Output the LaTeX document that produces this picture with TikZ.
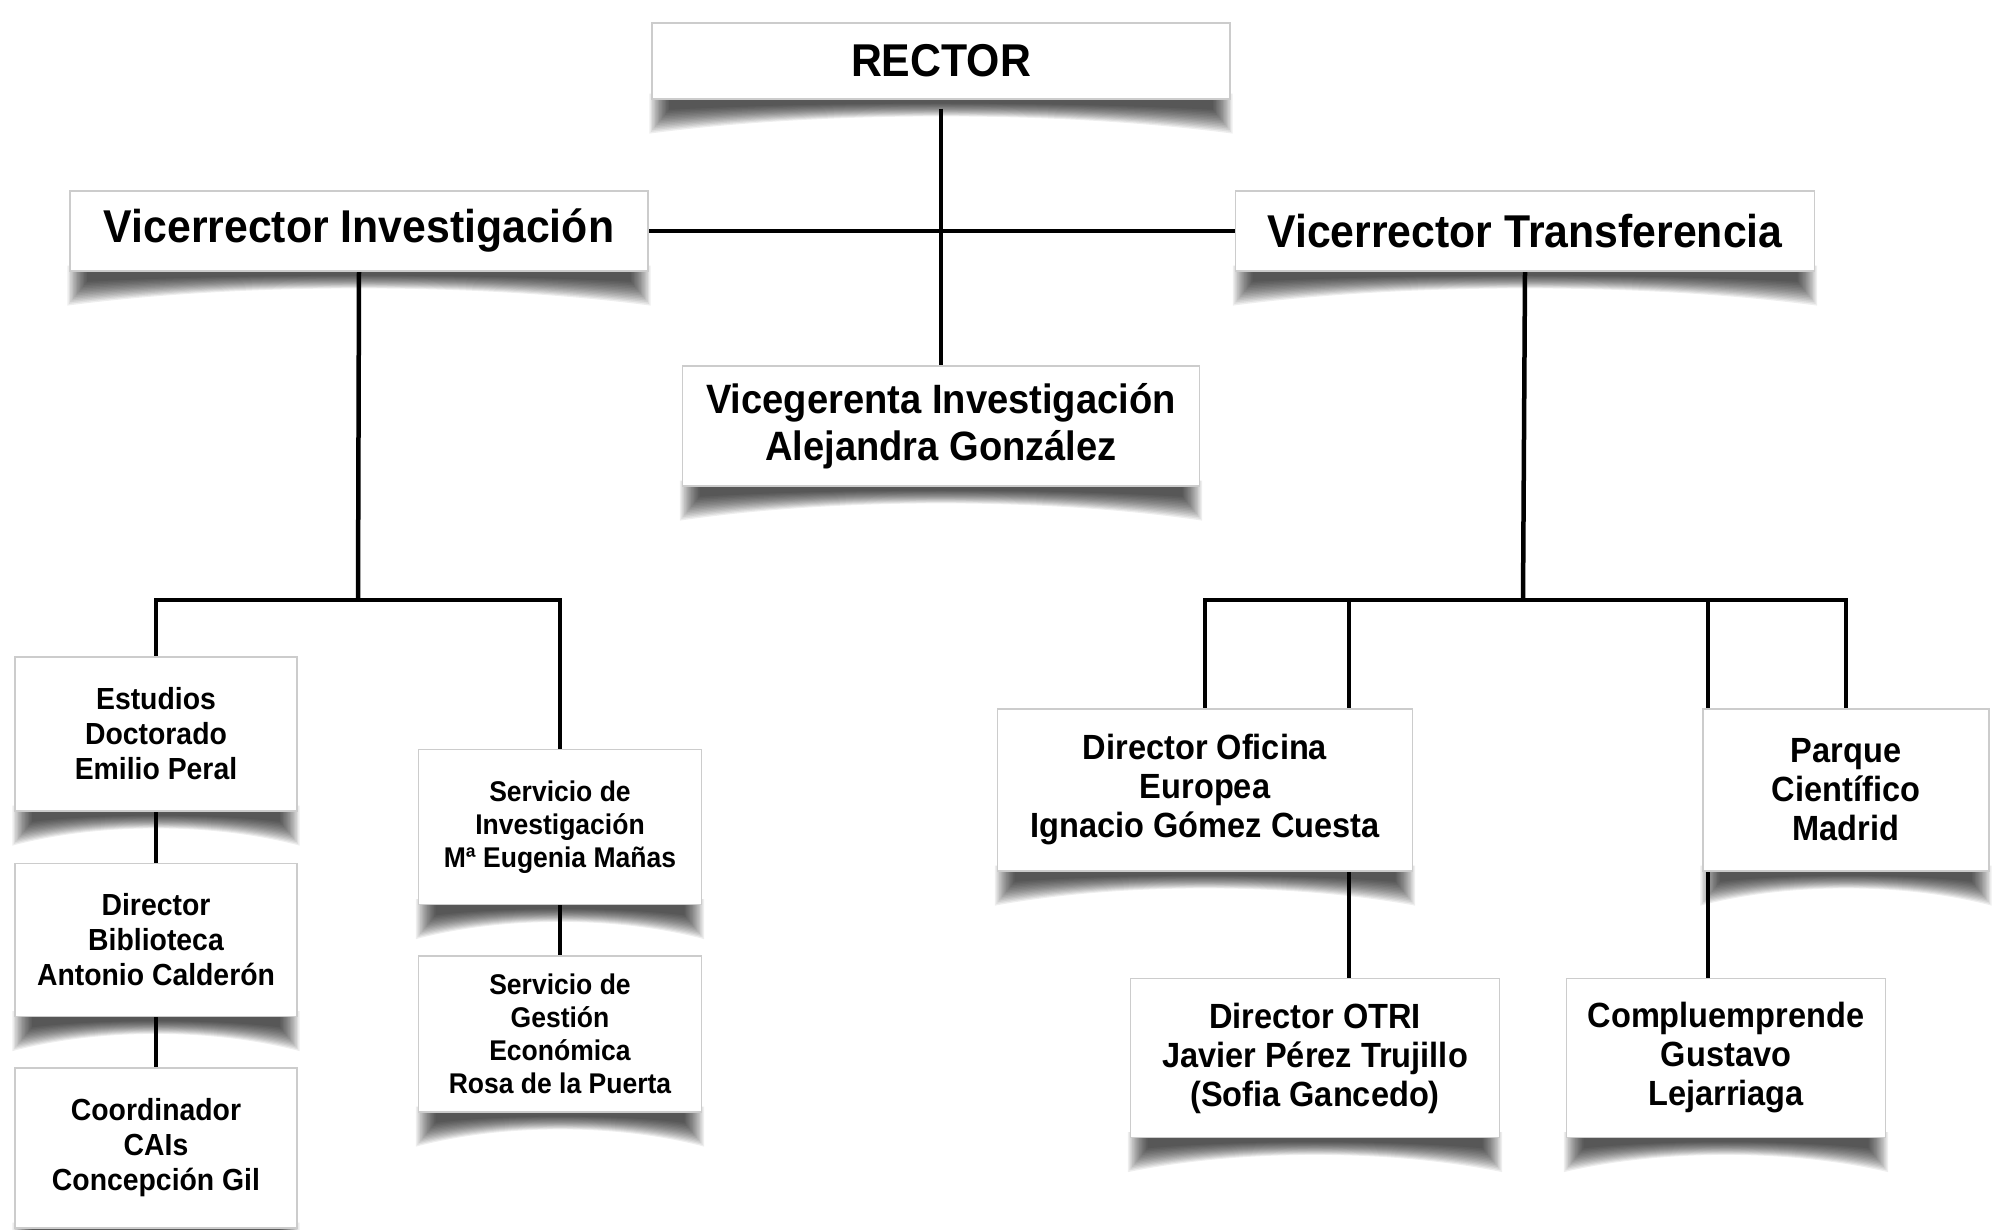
\documentclass[tikz,border=0pt]{standalone}
\usepackage{fontspec}
\setmainfont{Liberation Sans}[FakeStretch=0.93]
\usetikzlibrary{calc}
\pgfdeclarelayer{bg}
\pgfdeclarelayer{shadow}
\pgfdeclarelayer{lines}
\pgfsetlayers{bg,shadow,lines,main}
\newcommand\fsz[2]{\fontsize{#1}{#2}\selectfont}
\newcommand\curl[1]{%
\begin{pgfonlayer}{shadow}
\foreach \k in {0,...,14}{
 \fill[black,opacity=0.065]
  ($(#1.south west)+(-2+\k*1.4,-6)$) -- ($(#1.south west)+(-2+\k*1.4,34-\k*1.7)$)
  .. controls ($(#1.south west)!0.3!(#1.south east)+(0,11-\k*0.65)$) and ($(#1.south west)!0.7!(#1.south east)+(0,11-\k*0.65)$) ..
  ($(#1.south east)+(2-\k*1.4,34-\k*1.7)$) -- ($(#1.south east)+(2-\k*1.4,-6)$) -- cycle;
}
\end{pgfonlayer}}
\tikzset{
  box/.style={draw=gray!40, line width=1.2pt, fill=white, align=center, inner sep=0pt},
  big/.style={box, font=\bfseries\fsz{46}{52}},
  mid/.style={box, font=\bfseries\fsz{41}{47}},
  med/.style={box, font=\bfseries\fsz{35}{39}},
  sml/.style={box, font=\bfseries\fsz{30.5}{35}},
  tny/.style={box, font=\bfseries\fsz{28.5}{33}},
  conn/.style={line width=4.5pt, black, line join=miter}
}
\begin{document}
\begin{tikzpicture}[x=1pt,y=-1pt]
\begin{pgfonlayer}{bg}
\fill[white] (0,0) rectangle (1993,1229);
\end{pgfonlayer}
\useasboundingbox (0,0) rectangle (1993,1229);

\node[big, minimum width=578, minimum height=76] (rector) at (941,61) {RECTOR};
\node[big, minimum width=578, minimum height=80] (vi) at (359,231) {Vicerrector Investigación};
\node[big, minimum width=579, minimum height=80] (vt) at (1525,231) {Vicerrector Transferencia};
\node[mid, minimum width=517, minimum height=120] (vg) at (941,426) {Vicegerenta Investigación\\Alejandra González};

\node[sml, minimum width=282, minimum height=154] (ed) at (156,734) {Estudios\\Doctorado\\Emilio Peral};
\node[sml, minimum width=282, minimum height=153] (db) at (156,940) {Director\\Biblioteca\\Antonio Calderón};
\node[sml, minimum width=282, minimum height=160] (cc) at (156,1148) {Coordinador\\CAIs\\Concepción Gil};
\node[tny, minimum width=283, minimum height=155] (si) at (560,827) {Servicio de\\Investigación\\Mª Eugenia Mañas};
\node[tny, minimum width=283, minimum height=156] (sg) at (560,1034) {Servicio de\\Gestión\\Económica\\Rosa de la Puerta};

\node[med, minimum width=415, minimum height=162] (doe) at (1205,790) {Director Oficina\\Europea\\Ignacio Gómez Cuesta};
\node[med, minimum width=286, minimum height=162] (pcm) at (1846,790) {Parque\\Científico\\Madrid};
\node[med, minimum width=369, minimum height=159] (otri) at (1315,1058) {Director OTRI\\Javier Pérez Trujillo\\(Sofia Gancedo)};
\node[med, minimum width=319, minimum height=159] (comp) at (1726,1058) {Compluemprende\\Gustavo\\Lejarriaga};

\foreach \n in {rector,vi,vt,vg,ed,db,cc,si,sg,doe,pcm,otri,comp}{\curl{\n}}

\coordinate (lb) at (358,600);
\coordinate (rb) at (1523,600);
\coordinate (d1) at (1349,600);
\coordinate (d2) at (1708,600);
\begin{pgfonlayer}{lines}
\draw[conn, shorten <=9pt] (rector.south) -- (vg.north);
\draw[conn] (vi.east) -- (vt.west);
\draw[conn] (vi.south) -- (lb);
\draw[conn] (ed.north) |- (lb) -| (si.north);
\draw[conn] (ed.south) -- (db.north);
\draw[conn] (db.south) -- (cc.north);
\draw[conn] (si.south) -- (sg.north);
\draw[conn] (vt.south) -- (rb);
\draw[conn] (doe.north) |- (rb) -| (pcm.north);
\draw[conn] (d1) -- (d1 |- otri.north);
\draw[conn] (d2) -- (d2 |- comp.north);
\end{pgfonlayer}
\end{tikzpicture}
\end{document}
